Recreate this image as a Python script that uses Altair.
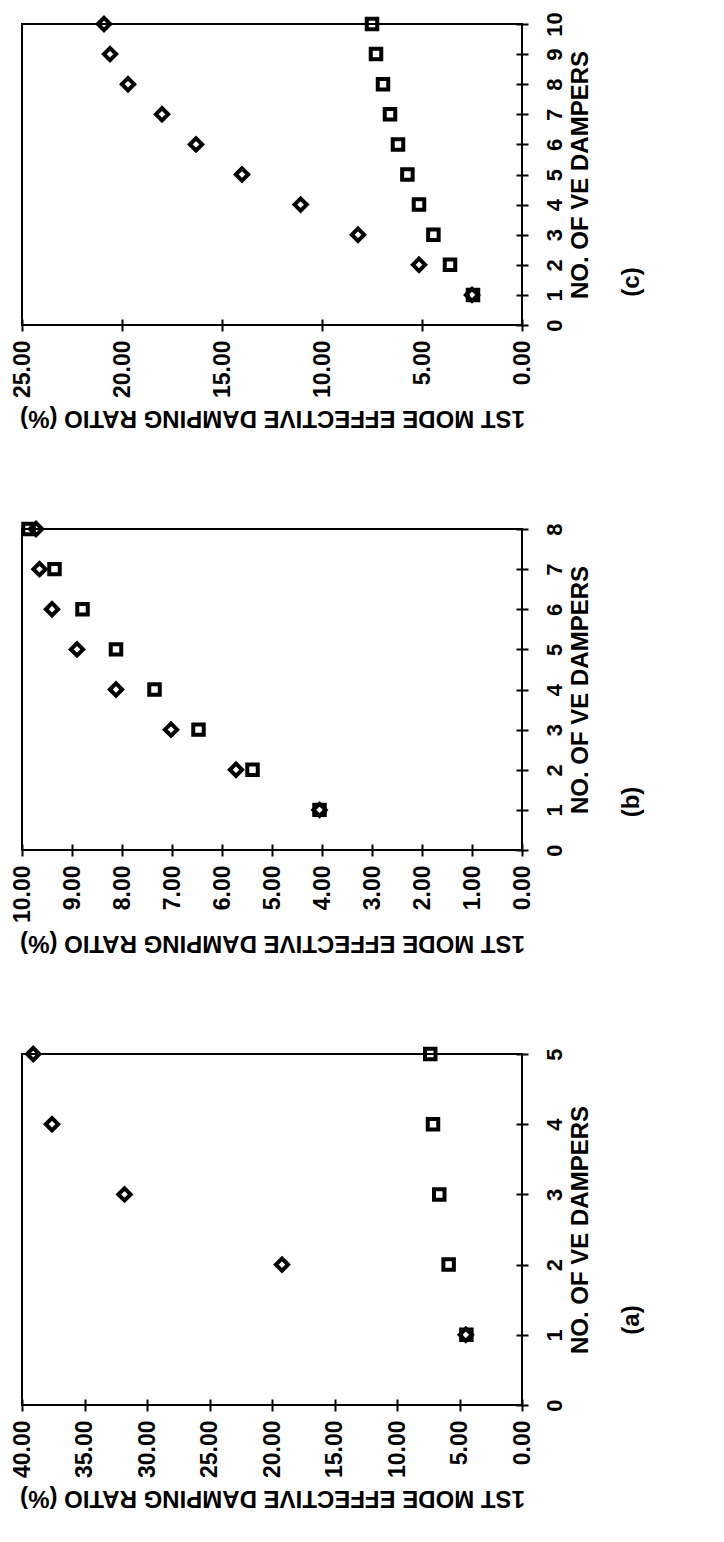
import altair as alt
import pandas as pd

# Panel (a): 1-5 dampers
dampers_a = [1, 2, 3, 4, 5]
diamond_a = [4.50, 19.20, 31.80, 37.60, 39.10]
square_a = [4.45, 5.87, 6.62, 7.12, 7.34]

# Panel (b): 1-8 dampers
dampers_b = [1, 2, 3, 4, 5, 6, 7, 8]
diamond_b = [4.05, 5.72, 7.02, 8.12, 8.90, 9.40, 9.65, 9.72]
square_b = [4.05, 5.39, 6.47, 7.35, 8.12, 8.79, 9.35, 9.87]

# Panel (c): 1-10 dampers
dampers_c = [1, 2, 3, 4, 5, 6, 7, 8, 9, 10]
diamond_c = [2.50, 5.15, 8.20, 11.07, 14.00, 16.30, 18.00, 19.70, 20.60, 20.90]
square_c = [2.45, 3.60, 4.43, 5.15, 5.73, 6.20, 6.60, 6.95, 7.30, 7.50]

ratio_ticks_a = [0, 5, 10, 15, 20, 25, 30, 35, 40]
ratio_ticks_b = [0, 1, 2, 3, 4, 5, 6, 7, 8, 9, 10]
ratio_ticks_c = [0, 5, 10, 15, 20, 25]

FONT = "Liberation Sans"
RATIO_TITLE = "1ST MODE EFFECTIVE DAMPING RATIO (%)"
COUNT_TITLE = "NO. OF VE DAMPERS"
PLOT_W = 500


def panel(dampers, diamonds, squares, ratio_max, ratio_ticks, n_max, height, tag, tag_y):
    df = pd.DataFrame({
        "n": dampers * 2,
        "ratio": diamonds + squares,
        "series": ["diamond"] * len(dampers) + ["square"] * len(dampers),
    })
    x = alt.X(
        "ratio:Q",
        scale=alt.Scale(domain=[0, ratio_max], reverse=True, nice=False, zero=True),
        axis=alt.Axis(
            orient="bottom", values=ratio_ticks, format=".2f",
            labelAngle=270, labelFont=FONT, labelFontSize=23, labelFontWeight="bold",
            labelColor="black", labelPadding=9, labelFlush=False, labelOverlap=False,
            tickSize=12, tickWidth=2, tickColor="black", offset=-6,
            domain=False, grid=False,
            title=RATIO_TITLE, titleAngle=180, titleFont=FONT, titleFontSize=24,
            titleFontWeight="bold", titleColor="black", titlePadding=8,
            titleBaseline="bottom",
        ),
    )
    y = alt.Y(
        "n:Q",
        scale=alt.Scale(domain=[0, n_max], nice=False, zero=True),
        axis=alt.Axis(
            orient="right", values=list(range(n_max + 1)), format="d",
            labelAngle=270, labelFont=FONT, labelFontSize=22, labelFontWeight="bold",
            labelColor="black", labelPadding=16, labelFlush=False, labelOverlap=False,
            tickSize=12, tickWidth=2, tickColor="black", offset=-6,
            domain=False, grid=False,
            title=COUNT_TITLE, titleAngle=270, titleFont=FONT, titleFontSize=24,
            titleFontWeight="bold", titleColor="black", titlePadding=3,
            titleBaseline="top",
        ),
    )
    points = alt.Chart(df).mark_point(
        filled=False, color="black", strokeWidth=4, opacity=1
    ).encode(
        x=x,
        y=y,
        shape=alt.Shape(
            "series:N",
            scale=alt.Scale(domain=["diamond", "square"], range=["diamond", "square"]),
            legend=None,
        ),
        size=alt.Size(
            "series:N",
            scale=alt.Scale(domain=["diamond", "square"], range=[150, 110]),
            legend=None,
        ),
    )
    label = alt.Chart(pd.DataFrame({"tag": [tag]})).mark_text(
        angle=270, font=FONT, fontSize=24, fontWeight="bold", color="black",
        align="center", baseline="middle",
    ).encode(
        text="tag:N",
        x=alt.value(PLOT_W + 110),
        y=alt.value(tag_y),
    )
    return alt.layer(points, label).properties(width=PLOT_W, height=height)


chart_c = panel(dampers_c, diamond_c, square_c, 25, ratio_ticks_c, 10, 301, "(c)", 258)
chart_b = panel(dampers_b, diamond_b, square_b, 10, ratio_ticks_b, 8, 321, "(b)", 273)
chart_a = panel(dampers_a, diamond_a, square_a, 40, ratio_ticks_a, 5, 351, "(a)", 266)

chart = alt.vconcat(
    chart_c, chart_b, chart_a, spacing=204, bounds="flush"
).properties(
    padding={"left": 10, "top": 8, "right": 5, "bottom": 5},
    background="white",
).configure_view(
    stroke="black", strokeWidth=2
)

chart.save("out.html", embed_options={"renderer": "svg", "actions": False})
